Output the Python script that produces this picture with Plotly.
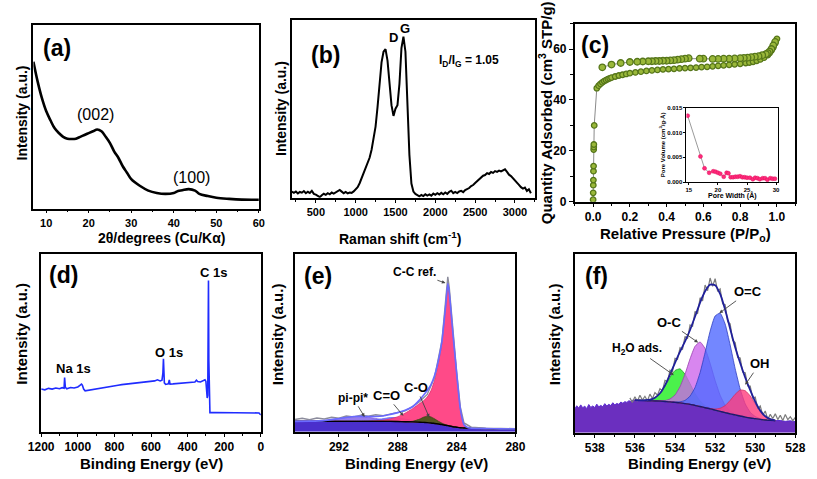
import plotly.graph_objects as go

W, H = 817, 479
FONT = "Liberation Sans, Arial, sans-serif"

# ---------------- (a) XRD ----------------
xrd_2theta = [7, 8, 9, 10, 11, 12, 13, 14, 15, 16, 17, 18, 19, 20, 21, 22, 23, 24, 25, 26, 27, 28, 29, 30,
              32, 34, 36, 38, 40, 41, 42, 43.5, 45, 46, 48, 50, 53, 56, 60]
xrd_int = [79.8, 69, 60, 53, 48, 43.6, 41, 39, 38, 37.8, 38, 39, 40, 41, 42, 43, 42, 39, 35.6, 31, 27.5, 23, 19.5, 16,
           12.4, 9.8, 8.5, 8, 8.5, 9.6, 10, 10.6, 9.8, 8, 6.8, 5.9, 5.3, 4.9, 4.8]

# ---------------- (b) Raman ----------------
raman_shift = [200, 225, 250, 275, 300, 325, 350, 375, 400, 425, 450, 475, 500, 525, 550, 575, 600, 625, 650, 675,
               700, 725, 750, 775, 800, 825, 850, 875, 900, 925, 950, 975, 1000, 1025, 1050, 1075, 1100, 1125, 1150,
               1175, 1200, 1225, 1250, 1275, 1300, 1325, 1350, 1375, 1400, 1425, 1450, 1475, 1500, 1525, 1550, 1575,
               1600, 1625, 1650, 1675, 1700, 1725, 1750, 1775, 1800, 1825, 1850, 1875, 1900, 1925, 1950, 1975, 2000,
               2025, 2050, 2075, 2100, 2125, 2150, 2175, 2200, 2225, 2250, 2275, 2300, 2325, 2350, 2375, 2400, 2425,
               2450, 2475, 2500, 2525, 2550, 2575, 2600, 2625, 2650, 2675, 2700, 2725, 2750, 2775, 2800, 2825, 2850,
               2875, 2900, 2925, 2950, 2975, 3000, 3025, 3050, 3075, 3100, 3125, 3150, 3175, 3200]
raman_int = [3.5, 2.8, 3.6, 2.5, 3.3, 2.9, 3.8, 2.6, 3.4, 2.7, 3.9, 2.2, 1.8, 1.0, 0.4, 1.5, 2.3, 1.7, 2.6, 2.0,
             3.0, 2.4, 3.2, 3.8, 4.4, 3.5, 2.6, 3.3, 2.5, 3.0, 2.8, 3.6, 4.6, 6.0, 8.2, 11.0, 13.6, 16.2, 19.0,
             22.5, 27, 33, 40, 51, 63, 76, 82, 83.5, 77, 63, 52, 46, 50, 52, 64, 84,
             90.5, 82, 55, 24, 8, 3.5, 2.2, 1.4, 0.9, 1.6, 1.0, 2.0, 1.3, 1.9, 1.2, 2.4, 1.7,
             2.6, 1.9, 2.8, 2.0, 3.0, 2.2, 3.4, 4.0, 2.6, 3.3, 2.7, 3.6, 3.9, 3.2, 4.4, 4.9, 5.5,
             6.6, 7.2, 8.3, 9.4, 10.6, 11.2, 12.4, 12.8, 13.9, 13.4, 14.5, 14.0, 15.0, 14.6, 15.3, 14.8, 15.6,
             16.0, 14.6, 13.0, 12.2, 10.8, 9.6, 8.4, 7.3, 6.0, 5.2, 5.8, 3.9, 4.8, 2.6]

# ---------------- (c) N2 isotherm ----------------
ads_p = [0.000, 0.0005, 0.001, 0.0015, 0.002, 0.0025, 0.003, 0.0035, 0.004, 0.006, 0.02, 0.03, 0.04, 0.05, 0.06,
         0.07, 0.08, 0.09, 0.10, 0.12, 0.14, 0.16, 0.18, 0.20, 0.23, 0.26, 0.29, 0.32, 0.35, 0.38, 0.41, 0.44,
         0.47, 0.50, 0.53, 0.56, 0.59, 0.62, 0.65, 0.68, 0.71, 0.74, 0.77, 0.80, 0.83, 0.85, 0.87, 0.89, 0.91,
         0.93, 0.95, 0.96, 0.97, 0.98, 0.99, 1.0]
ads_q = [0.8, 3.5, 6.5, 8.5, 12.0, 14.0, 20.5, 21.5, 22.5, 30.0, 44.6, 45.6, 46.3, 46.9, 47.4,
         47.8, 48.2, 48.5, 48.8, 49.2, 49.6, 49.9, 50.2, 50.5, 50.8, 51.1, 51.4, 51.6, 51.8, 52.0, 52.1, 52.2,
         52.4, 52.5, 52.6, 52.7, 52.9, 53.0, 53.2, 53.4, 53.6, 53.8, 54.0, 54.2, 54.5, 54.7, 55.0, 55.4, 55.9,
         56.6, 57.6, 58.4, 59.4, 60.6, 62.2, 64.0]
des_p = [0.99, 0.98, 0.97, 0.96, 0.95, 0.94, 0.92, 0.90, 0.88, 0.86, 0.84, 0.82, 0.80, 0.77, 0.74, 0.71, 0.68,
         0.65, 0.60, 0.58, 0.52, 0.50, 0.48, 0.46, 0.44, 0.42, 0.40, 0.38, 0.36, 0.34, 0.32, 0.30, 0.27, 0.24,
         0.20, 0.15, 0.10, 0.05]
des_q = [62.8, 61.4, 60.0, 59.0, 58.4, 58.0, 57.6, 57.2, 57.0, 56.8, 56.6, 56.5, 56.4, 56.3, 56.2, 56.2, 56.1,
         56.1, 56.2, 56.2, 56.4, 56.2, 56.0, 55.8, 55.6, 55.5, 55.4, 55.4, 55.3, 55.3, 55.2, 55.2, 55.1, 55.0,
         54.9, 54.5, 53.9, 52.8]

# inset: pore size distribution
pore_w = [14.8, 17.0, 17.7, 18.5, 19.2, 19.6, 20.0, 20.4, 21.0, 21.5, 21.8, 22.2, 22.6, 23.0, 23.4, 23.8, 24.2,
          24.6, 25.0, 25.5, 26.0, 26.4, 26.8, 27.2, 27.7, 28.1, 28.5, 29.0, 29.4, 29.8]
pore_v = [0.0134, 0.0052, 0.0028, 0.0019, 0.0022, 0.0021, 0.0019, 0.0017, 0.0011, 0.0019, 0.0018, 0.0010, 0.0010,
          0.0011, 0.0011, 0.0012, 0.0010, 0.0010, 0.0009, 0.0009, 0.0006, 0.0009, 0.0008, 0.0006, 0.0008, 0.0008,
          0.0005, 0.0008, 0.0007, 0.0007]

# ---------------- (d) XPS survey ----------------
survey_be = [1200, 1180, 1160, 1140, 1120, 1100, 1085, 1075, 1072, 1068, 1060, 1040, 1020, 1000, 990, 980, 975,
             968, 960, 940, 920, 900, 880, 860, 840, 820, 800, 780, 760, 740, 720, 700, 680, 660, 640, 620, 600,
             580, 565, 550, 540, 535, 532, 530, 527, 520, 505, 500, 496, 480, 460, 440, 420, 400, 380, 360, 352,
             345, 330, 315, 305, 300, 296, 293, 290, 288, 286, 284, 281, 278, 250, 200, 150, 100, 50, 10, 5, 0]
survey_int = [24.0, 23.6, 24.4, 24.0, 24.6, 24.2, 24.8, 24.5, 30.5, 25.0, 24.2, 24.9, 24.6, 25.2, 26.0, 26.8, 26.2,
              24.0, 23.0, 23.4, 23.8, 24.1, 24.6, 24.9, 25.2, 25.5, 25.9, 26.2, 26.5, 26.7, 27.0, 27.2, 27.5, 27.7,
              27.9, 28.1, 28.4, 28.6, 29.2, 28.6, 29.0, 33.0, 41.0, 34.0, 27.5, 26.6, 27.0, 29.2, 26.8, 26.9, 27.1,
              27.3, 27.4, 27.6, 27.7, 28.0, 29.0, 28.2, 28.0, 28.8, 29.2, 28.3, 22.0, 19.0, 20.5, 40.0, 85.0, 40.0,
              11.5, 10.8, 10.9, 10.8, 10.7, 10.8, 10.6, 10.6, 10.0, 9.5]

# ---------------- (e) C 1s ----------------
c1s_be = [295, 294, 293, 292, 291, 290.5, 290, 289.5, 289, 288.5, 288, 287.5, 287, 286.5, 286.25, 286, 285.75,
          285.5, 285.25, 285, 284.75, 284.6, 284.5, 284.25, 284, 283.75, 283.5, 283.25, 283, 282, 281, 280]
c1s_bg = [5.9, 5.9, 5.9, 5.9, 5.9, 5.9, 5.9, 5.9, 5.9, 5.9, 5.8, 5.7, 5.6, 5.4, 5.3, 5.2, 5.0,
          4.7, 4.4, 4.1, 3.7, 3.5, 3.3, 2.9, 2.6, 2.3, 2.2, 2.1, 2.0, 1.8, 1.7, 1.6]
c1s_pipi = [0, 0.1, 0.4, 1.6, 2.7, 2.7, 2.3, 1.6, 0.9, 0.4, 0.2, 0.1, 0, 0, 0, 0, 0,
            0, 0, 0, 0, 0, 0, 0, 0, 0, 0, 0, 0, 0, 0, 0]
c1s_c_o2 = [0, 0, 0, 0, 0, 0.1, 0.3, 0.8, 1.5, 2.1, 2.1, 1.5, 0.8, 0.3, 0.15, 0.1, 0,
            0, 0, 0, 0, 0, 0, 0, 0, 0, 0, 0, 0, 0, 0, 0]
c1s_c_o = [0, 0, 0, 0, 0, 0, 0, 0, 0, 0, 0, 0, 0.3, 1.8, 2.9, 3.6, 3.4,
           2.6, 1.6, 0.8, 0.3, 0.2, 0.1, 0, 0, 0, 0, 0, 0, 0, 0, 0]
c1s_cc = [0, 0, 0, 0, 0, 0, 0.1, 0.3, 0.6, 1.4, 2.7, 4.8, 7.4, 10.6, 12.2, 14.3, 18.0,
          24.3, 33.6, 45.9, 66.3, 79.5, 74.7, 52.1, 30.4, 10.7, 1.8, 0.3, 0, 0, 0, 0]
c1s_raw_be = [295, 294.5, 294, 293.5, 293, 292.5, 292, 291.5, 291, 290.5, 290, 289.5, 289, 288.5, 288, 287.5, 287,
              286.5, 286, 285.5, 285, 284.75, 284.6, 284.5, 284.25, 284, 283.75, 283.5, 283, 282.5, 282, 281, 280]
c1s_raw = [6.9, 7.6, 6.8, 7.8, 7.2, 8.2, 7.7, 8.9, 8.4, 9.3, 8.8, 9.6, 9.1, 9.9, 10.6, 11.8, 14.2,
           17.0, 21.0, 30.5, 51.0, 71.0, 87.0, 81.0, 57.0, 34.0, 14.0, 5.0, 2.6, 2.2, 2.0, 1.9, 1.8]

# ---------------- (f) O 1s ----------------
o1s_be = [536.0, 535.75, 535.5, 535.25, 535.0, 534.75, 534.5, 534.25, 534.0, 533.75, 533.5, 533.25, 533.0,
          532.75, 532.5, 532.25, 532.0, 531.75, 531.5, 531.25, 531.0, 530.75, 530.5, 530.25, 530.0, 529.75,
          529.5, 529.25, 529.0]
o1s_bg = [18.2, 18.1, 18.0, 17.9, 17.8, 17.7, 17.5, 17.3, 17.0, 16.7, 16.3, 15.9, 15.3, 14.7, 14.0, 13.4, 12.7,
          12.0, 11.3, 10.6, 10.0, 9.4, 8.8, 8.3, 7.9, 7.5, 7.2, 7.0, 6.8]
o1s_h2o = [0, 0, 0.2, 0.6, 1.8, 4.3, 8.5, 13.6, 17.8, 19.0, 16.4, 11.5, 6.6, 3.1, 1.2, 0.4, 0.1,
           0, 0, 0, 0, 0, 0, 0, 0, 0, 0, 0, 0]
o1s_oc_single = [0, 0, 0, 0, 0, 0.1, 0.5, 1.6, 4.1, 9.0, 16.5, 25.4, 33.0, 36.0, 33.0, 25.4, 16.5,
                 9.0, 4.1, 1.6, 0.5, 0.1, 0, 0, 0, 0, 0, 0, 0]
o1s_oc_double = [0, 0, 0, 0, 0, 0, 0, 0, 0.2, 0.6, 1.8, 4.6, 10.0, 18.9, 30.8, 43.3, 52.5,
                 54.8, 49.4, 38.4, 25.8, 15.0, 7.4, 3.2, 1.2, 0.4, 0.1, 0, 0]
o1s_oh = [0, 0, 0, 0, 0, 0, 0, 0, 0, 0, 0, 0, 0, 0, 0, 0.2, 0.6,
          1.7, 3.9, 7.5, 11.5, 14.5, 14.7, 12.3, 8.3, 4.5, 2.0, 0.7, 0.2]
o1s_fill_be = [539.0, 538.9, 538.8, 538.7, 538.6, 538.5, 538.4, 538.3, 538.2, 538.1, 538.0, 537.9, 537.8, 537.7,
               537.6, 537.5, 537.4, 537.3, 537.2, 537.1, 537.0, 536.9, 536.8, 536.7, 536.6, 536.5, 536.4, 536.3,
               536.2, 536.1, 536.0, 535.75, 535.5, 535.25, 535.0, 534.75, 534.5, 534.25, 534.0, 533.75, 533.5,
               533.25, 533.0, 532.75, 532.5, 532.25, 532.0, 531.75, 531.5, 531.25, 531.0, 530.75, 530.5, 530.25,
               530.0, 529.75, 529.5, 529.25, 529.0, 528.75, 528.5, 528.25, 528.0]
o1s_fill = [13.2, 15.1, 13.8, 15.6, 14.0, 14.9, 13.5, 15.8, 14.2, 15.0, 14.1, 16.0, 14.5, 15.3,
            14.6, 16.3, 15.0, 15.9, 15.2, 16.8, 15.6, 16.4, 15.9, 17.2, 16.5, 17.4, 17.0, 17.9,
            17.5, 18.3, 18.2, 18.1, 18.0, 17.9, 17.8, 17.7, 17.5, 17.3, 17.0, 16.7, 16.3,
            15.9, 15.3, 14.7, 14.0, 13.4, 12.7, 12.0, 11.3, 10.6, 10.0, 9.4, 8.8, 8.3,
            7.9, 7.5, 7.2, 7.0, 6.8, 6.9, 6.4, 6.7, 6.2]
o1s_raw_be = [536.25, 536.125, 536.0, 535.875, 535.75, 535.625, 535.5, 535.375, 535.25, 535.125, 535.0, 534.875,
              534.75, 534.625, 534.5, 534.375, 534.25, 534.125, 534.0, 533.875, 533.75, 533.625, 533.5, 533.375,
              533.25, 533.125, 533.0, 532.875, 532.75, 532.625, 532.5, 532.375, 532.25, 532.125, 532.0, 531.875,
              531.75, 531.625, 531.5, 531.375, 531.25, 531.125, 531.0, 530.875, 530.75, 530.625, 530.5, 530.375,
              530.25, 530.125, 530.0, 529.875, 529.75, 529.625, 529.5, 529.375, 529.25, 529.125, 529.0, 528.875,
              528.75, 528.625, 528.5, 528.375, 528.25, 528.125, 528.0]
o1s_raw = [19.5, 17.0, 20.1, 17.6, 21.0, 18.3, 20.4, 17.9, 21.6, 19.2, 22.5, 21.0,
           24.6, 23.5, 29.3, 28.6, 35.0, 34.2, 41.6, 41.0, 47.5, 46.6, 53.8, 52.5,
           60.2, 59.4, 67.8, 66.5, 75.4, 73.6, 82.5, 79.3, 86.4, 81.8, 86.0, 79.2,
           80.3, 72.0, 71.5, 62.0, 60.8, 51.6, 50.4, 42.1, 41.8, 33.9, 33.5, 26.2,
           26.1, 19.4, 20.0, 13.6, 15.0, 9.9, 12.2, 7.6, 10.3, 8.0, 10.6, 7.4,
           9.8, 6.9, 10.2, 7.3, 9.0, 6.8, 8.6]


def px(x):
    return x / W


def py(y):
    return 1 - y / H


def band(xs, lower, comp):
    upper = [l + c for l, c in zip(lower, comp)]
    return list(xs) + list(xs)[::-1], upper + list(lower)[::-1]


fig = go.Figure()

# (a)
fig.add_trace(go.Scatter(x=xrd_2theta, y=xrd_int, mode="lines", line=dict(color="black", width=2.6, shape="spline"),
                         xaxis="x", yaxis="y"))
# (b)
fig.add_trace(go.Scatter(x=raman_shift, y=raman_int, mode="lines", line=dict(color="black", width=2),
                         xaxis="x2", yaxis="y2"))
# (c)
fig.add_trace(go.Scatter(x=ads_p, y=ads_q, mode="lines+markers", line=dict(color="#8a8a8a", width=1),
                         marker=dict(size=5.5, color="#9ab83a", line=dict(color="#56761a", width=1.3)),
                         xaxis="x3", yaxis="y3"))
fig.add_trace(go.Scatter(x=des_p, y=des_q, mode="lines+markers", line=dict(color="#8a8a8a", width=1),
                         marker=dict(size=6.5, color="#9ab83a", line=dict(color="#56761a", width=1.3)),
                         xaxis="x3", yaxis="y3"))
# inset
fig.add_trace(go.Scatter(x=pore_w, y=pore_v, mode="lines+markers", line=dict(color="#9a9a9a", width=1),
                         marker=dict(size=4, color="#ff2a7a", line=dict(color="#e0105f", width=0.5)),
                         xaxis="x4", yaxis="y4"))
# (d)
fig.add_trace(go.Scatter(x=survey_be, y=survey_int, mode="lines", line=dict(color="#1f2cff", width=1.6),
                         xaxis="x5", yaxis="y5"))

# (e)
fig.add_trace(go.Scatter(x=c1s_be, y=c1s_bg, mode="lines", fill="tozeroy", fillcolor="#4a2fcc",
                         line=dict(color="#4a2fcc", width=0.5), xaxis="x6", yaxis="y6"))
for comp, col, lc in [(c1s_pipi, "rgba(140,110,235,0.9)", "#7a5ae0"),
                      (c1s_c_o2, "rgba(110,110,250,0.85)", "#6060f0"),
                      (c1s_cc, "rgba(255,64,130,0.95)", "#e0306f"),
                      (c1s_c_o, "rgba(75,85,25,0.95)", "#3b4515")]:
    bx, byv = band(c1s_be, c1s_bg, comp)
    fig.add_trace(go.Scatter(x=bx, y=byv, mode="lines", fill="toself", fillcolor=col,
                             line=dict(color=lc, width=0.8, shape="spline", smoothing=0.5),
                             xaxis="x6", yaxis="y6"))
fig.add_trace(go.Scatter(x=c1s_be, y=c1s_bg, mode="lines", line=dict(color="black", width=1.4, shape="spline"),
                         xaxis="x6", yaxis="y6"))
c1s_env = [b + p + q + r + s for b, p, q, r, s in zip(c1s_bg, c1s_pipi, c1s_c_o2, c1s_c_o, c1s_cc)]
fig.add_trace(go.Scatter(x=c1s_raw_be, y=c1s_raw, mode="lines", line=dict(color="#8c8c9c", width=1.4),
                         xaxis="x6", yaxis="y6"))
fig.add_trace(go.Scatter(x=c1s_be, y=c1s_env, mode="lines",
                         line=dict(color="#6a6aff", width=1.6, shape="spline", smoothing=0.5),
                         xaxis="x6", yaxis="y6"))

# (f)
fig.add_trace(go.Scatter(x=o1s_fill_be, y=o1s_fill, mode="lines", fill="tozeroy", fillcolor="#6b2fbf",
                         line=dict(color="#5a2ad0", width=1), xaxis="x7", yaxis="y7"))
for comp, col, lc in [(o1s_h2o, "rgba(60,240,60,0.92)", "#2a9a2a"),
                      (o1s_oc_single, "rgba(205,100,235,0.78)", "#9a40b0"),
                      (o1s_oc_double, "rgba(80,105,255,0.8)", "#3040c0"),
                      (o1s_oh, "rgba(255,60,125,0.8)", "#d0305f")]:
    bx, byv = band(o1s_be, o1s_bg, comp)
    fig.add_trace(go.Scatter(x=bx, y=byv, mode="lines", fill="toself", fillcolor=col,
                             line=dict(color=lc, width=0.8, shape="spline", smoothing=0.5),
                             xaxis="x7", yaxis="y7"))
fig.add_trace(go.Scatter(x=o1s_be, y=o1s_bg, mode="lines", line=dict(color="#1a1a70", width=1.4, shape="spline"),
                         xaxis="x7", yaxis="y7"))
fig.add_trace(go.Scatter(x=o1s_raw_be, y=o1s_raw, mode="lines", line=dict(color="#7c7c7c", width=1.2),
                         xaxis="x7", yaxis="y7"))
o1s_env = [b + a + c + d + e for b, a, c, d, e in zip(o1s_bg, o1s_h2o, o1s_oc_single, o1s_oc_double, o1s_oh)]
fig.add_trace(go.Scatter(x=o1s_be, y=o1s_env, mode="lines",
                         line=dict(color="#20209a", width=1.8, shape="spline", smoothing=0.6),
                         xaxis="x7", yaxis="y7"))


def xax(domain, anchor, rng, size=13, **kw):
    d = dict(domain=domain, anchor=anchor, range=rng, showline=True, linecolor="black", linewidth=1.6,
             mirror=True, showgrid=False, zeroline=False, ticks="outside", ticklen=4, tickwidth=1.3,
             tickcolor="black", tickfont=dict(family=FONT, size=size, color="black", weight="bold"))
    d.update(kw)
    return d


def yax_blank(domain, anchor, rng):
    return dict(domain=domain, anchor=anchor, range=rng, showline=True, linecolor="black", linewidth=1.6,
                mirror=True, showgrid=False, zeroline=False, ticks="", showticklabels=False)


def minor(dt, ln=2.5):
    return dict(ticks="outside", ticklen=ln, tickwidth=1, tickcolor="black", dtick=dt, showgrid=False)


yd_top_a = [py(210), py(22)]
yd_top_b = [py(199), py(17)]
yd_top_c = [py(203), py(21)]
yd_bot = [py(438), py(256)]
yd_bot_f = [py(439), py(256)]

fig.update_layout(
    width=W, height=H, autosize=False, margin=dict(l=0, r=0, t=0, b=0),
    paper_bgcolor="white", plot_bgcolor="white", showlegend=False,
    font=dict(family=FONT, color="black"),
    xaxis=xax([px(21), px(253)], "y", [7, 60], size=11, ticklen=3, tickvals=[10, 20, 30, 40, 50, 60],
              minor=minor(5, 2)),
    yaxis=yax_blank(yd_top_a, "x", [0, 100]),
    xaxis2=xax([px(287), px(537)], "y2", [200, 3250], size=11, ticklen=3, tick0=500, dtick=500,
               minor=minor(250, 2)),
    yaxis2=yax_blank(yd_top_b, "x2", [0, 100]),
    xaxis3=xax([px(578), px(805)], "y3", [-0.1, 1.1], size=12, ticklen=3, tick0=0, dtick=0.2, tickformat=".1f",
               minor=minor(0.1, 2)),
    yaxis3=xax(yd_top_c, "x3", [0, 70], size=12, tick0=0, dtick=20, minor=minor(10)),
    xaxis4=xax([px(693), px(787)], "y4", [14.6, 30.3], size=6, tickvals=[15, 20, 25, 30], ticklen=2,
               linewidth=1, tickwidth=0.8),
    yaxis4=xax([py(183), py(107)], "x4", [0, 0.015], size=6, tickvals=[0, 0.005, 0.010, 0.015],
               tickformat=".3f", ticklen=2, linewidth=1, tickwidth=0.8),
    xaxis5=xax([px(29), px(255)], "y5", [1200, 0], size=12, ticklen=3, tick0=0, dtick=200, minor=minor(100, 2)),
    yaxis5=yax_blank(yd_bot, "x5", [0, 100]),
    xaxis6=xax([px(290), px(517)], "y6", [295, 280], size=12, ticklen=3, tickvals=[292, 288, 284, 280],
               minor=minor(2, 3)),
    yaxis6=yax_blank(yd_bot, "x6", [0, 100]),
    xaxis7=xax([px(578), px(805)], "y7", [539, 528], size=12, ticklen=3, tick0=528, dtick=2, minor=minor(1, 2)),
    yaxis7=yax_blank(yd_bot_f, "x7", [0, 100]),
)

ann = []


def text_px(x, y, s, size, bold=True, angle=0, color="black"):
    ann.append(dict(x=px(x), y=py(y), xref="paper", yref="paper", text=s, showarrow=False,
                    xanchor="center", yanchor="middle", textangle=angle,
                    font=dict(family=FONT, size=size, color=color, weight="bold" if bold else "normal")))


# panel letters
for lbl, x, y in [("(a)", 45, 46), ("(b)", 322, 53), ("(c)", 599, 43),
                  ("(d)", 52, 278), ("(e)", 314, 279), ("(f)", 600, 279)]:
    text_px(x, y, lbl, 23)

# axis titles
text_px(153, 240, "2θ/degrees (Cu/Kα)", 14)
text_px(9, 112, "Intensity (a.u.)", 14, angle=-90)
text_px(398, 240, "Raman shift (cm<sup>-1</sup>)", 14)
text_px(276, 108, "Intensity (a.u.)", 14, angle=-90)
text_px(692, 236, "Relative Pressure (P/P<sub>o</sub>)", 15)
text_px(548, 112, "Quantity Adsorbed (cm<sup>3</sup> STP/g)", 15, angle=-90)
text_px(740, 197, "Pore Width (Å)", 7)
text_px(668, 145, "Pore Volume (cm<sup>3</sup>/g·Å)", 6, angle=-90)
text_px(142, 470, "Binding Energy (eV)", 15)
text_px(9, 338, "Intensity (a.u.)", 15, angle=-90)
text_px(415, 470, "Binding Energy (eV)", 15)
text_px(273, 338, "Intensity (a.u.)", 15, angle=-90)
text_px(706, 470, "Binding Energy (eV)", 15)
text_px(558, 338, "Intensity (a.u.)", 15, angle=-90)


def text_data(x, y, s, size, xr, yr, bold=True):
    ann.append(dict(x=x, y=y, xref=xr, yref=yr, text=s, showarrow=False, xanchor="center", yanchor="middle",
                    font=dict(family=FONT, size=size, color="black", weight="bold" if bold else "normal")))


def arrow(tip_x, tip_y, tx, ty, s, size, xr, yr):
    ann.append(dict(x=tip_x, y=tip_y, ax=tx, ay=ty, xref=xr, yref=yr, axref=xr, ayref=yr, text=s,
                    showarrow=True, arrowhead=2, arrowsize=0.8, arrowwidth=0.9, arrowcolor="#444",
                    font=dict(family=FONT, size=size, color="black", weight="bold")))


# (a) peak labels
text_data(21.6, 51, "(002)", 16, "x", "y", bold=False)
text_data(44.2, 17, "(100)", 16, "x", "y", bold=False)
# (b)
text_px(391.5, 35, "D", 13)
text_px(403.5, 26.5, "G", 13)
text_px(469, 59, "I<sub>D</sub>/I<sub>G</sub> = 1.05", 12)
# (d)
text_data(260, 89.6, "C 1s", 13, "x5", "y5")
text_data(499, 44.5, "O 1s", 13, "x5", "y5")
text_data(1025, 35.7, "Na 1s", 13, "x5", "y5")
# (e)
arrow(284.76, 83.5, 286.87, 89.6, "C-C ref.", 12, "x6", "y6")
arrow(285.86, 8.1, 286.74, 24.9, "C-O", 13, "x6", "y6")
arrow(287.62, 9.0, 288.79, 20.5, "C=O", 13, "x6", "y6")
arrow(290.26, 8.4, 291.04, 19.1, "pi-pi*", 12, "x6", "y6")
# (f)
arrow(531.79, 66.8, 530.34, 78.7, "O=C", 13, "x7", "y7")
arrow(532.85, 50.4, 534.30, 61.7, "O-C", 13, "x7", "y7")
arrow(534.06, 32.2, 535.91, 46.8, "H<sub>2</sub>O ads.", 12, "x7", "y7")
arrow(530.5, 26.8, 529.78, 38.6, "OH", 13, "x7", "y7")

fig.update_layout(annotations=ann)
fig.write_html("out.html")
